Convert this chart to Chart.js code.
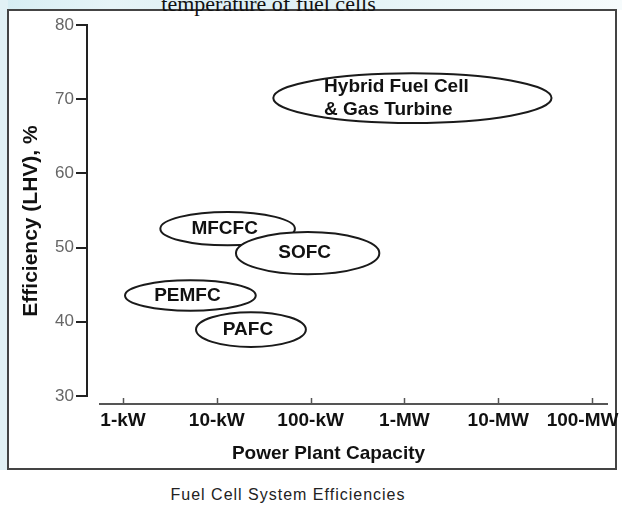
<!DOCTYPE html>
<html>
<head>
<meta charset="utf-8">
<script src="https://cdn.jsdelivr.net/npm/chart.js@4/dist/chart.umd.min.js"></script>
<style>
  html, body { margin: 0; padding: 0; }
  body { width: 622px; height: 507px; position: relative; overflow: hidden; background: #fff;
         font-family: "Liberation Sans", Arial, sans-serif; }
  #bgTop { position: absolute; left: 0; top: 0; width: 622px; height: 10px;
           background: linear-gradient(90deg, #d6edf3 0%, #e6f4f7 18%, #dcefF4 40%, #eaf6f8 70%, #f6fbfc 100%); }
  #bgLeft { position: absolute; left: 0; top: 0; width: 8px; height: 470px; background: #e2f1f5; }
  #frame { position: absolute; left: 7px; top: 9px; width: 610px; height: 461px;
           box-sizing: border-box; border: 2px solid #444; }
  #topText { position: absolute; left: 0; width: 537px; top: -7px; text-align: center;
             font: 22px/22px "Liberation Serif", "Times New Roman", serif; color: #111; }
  #caption { position: absolute; left: 0; width: 576px; top: 486px; text-align: center;
             font: 16px/18px "Liberation Sans", Arial, sans-serif; letter-spacing: 1px; color: #222; }
  #wrap { position: absolute; left: 0; top: 0; width: 622px; height: 507px; }
</style>
</head>
<body>
<div id="bgTop"></div>
<div id="bgLeft"></div>
<div id="frame"></div>
<div id="topText">temperature of fuel cells</div>
<div id="caption">Fuel Cell System Efficiencies</div>
<div id="wrap"><canvas id="fuelCellChart"></canvas></div>

<script>
// tick labels of the capacity axis (kW, log scale)
const capacityTicks = [1, 10, 100, 1000, 10000, 100000];
const capacityLabels = ['1-kW', '10-kW', '100-kW', '1-MW', '10-MW', '100-MW'];
const efficiencyTicks = [30, 40, 50, 60, 70, 80];

// fuel cell types: capacity range (kW) and efficiency range (%)
const fuelCells = [['Hybrid Fuel Cell', '& Gas Turbine'], ['MFCFC'], ['SOFC'], ['PEMFC'], ['PAFC']];
const capacityMin = [40, 2.5, 16, 1.05, 6];
const capacityMax = [37000, 68, 540, 26, 89];
const efficiencyMin = [66.8, 50.3, 46.4, 41.5, 36.6];
const efficiencyMax = [73.5, 54.8, 52.1, 45.6, 41.3];

Chart.defaults.font.family = '"Liberation Sans", Arial, sans-serif';

// x axis line sits a little below the y axis, with small ticks pointing up
const xAxisPlugin = {
    id: 'xAxisLine',
    afterDraw(chart) {
        const ctx = chart.ctx;
        const xs = chart.scales.x;
        const area = chart.chartArea;
        const yLine = area.bottom + 8;
        ctx.save();
        ctx.strokeStyle = '#555';
        ctx.lineWidth = 2;
        ctx.beginPath();
        ctx.moveTo(area.left + 12, yLine);
        ctx.lineTo(area.right, yLine);
        ctx.stroke();
        ctx.lineWidth = 1.5;
        capacityTicks.forEach(function (t) {
            const px = Math.round(xs.getPixelForValue(t)) + 0.5;
            ctx.beginPath();
            ctx.moveTo(px, yLine);
            ctx.lineTo(px, yLine - 6);
            ctx.stroke();
        });
        ctx.restore();
    }
};

// ellipses for each fuel cell type
const ellipsePlugin = {
    id: 'fuelCellEllipses',
    afterDatasetsDraw(chart) {
        const ctx = chart.ctx;
        const xs = chart.scales.x;
        const ys = chart.scales.y;
        ctx.save();
        fuelCells.forEach(function (lines, i) {
            const x0 = xs.getPixelForValue(capacityMin[i]);
            const x1 = xs.getPixelForValue(capacityMax[i]);
            const y0 = ys.getPixelForValue(efficiencyMax[i]);
            const y1 = ys.getPixelForValue(efficiencyMin[i]);
            const cx = (x0 + x1) / 2, cy = (y0 + y1) / 2;
            ctx.beginPath();
            ctx.ellipse(cx, cy, (x1 - x0) / 2, (y1 - y0) / 2, 0, 0, Math.PI * 2);
            ctx.fillStyle = '#fff';
            ctx.fill();
            ctx.lineWidth = 2;
            ctx.strokeStyle = '#1a1a1a';
            ctx.stroke();

            ctx.fillStyle = '#111';
            ctx.font = 'bold 19px "Liberation Sans", Arial, sans-serif';
            ctx.textBaseline = 'middle';
            if (lines.length > 1) {
                const w = Math.max.apply(null, lines.map(function (l) { return ctx.measureText(l).width; }));
                ctx.textAlign = 'left';
                const lh = 23;
                lines.forEach(function (l, k) {
                    ctx.fillText(l, cx - w / 2 - 16, cy - lh * (lines.length - 1) / 2 + k * lh);
                });
            } else {
                ctx.textAlign = 'center';
                ctx.fillText(lines[0], cx - 3, cy);
            }
        });
        ctx.restore();
    }
};

const ctxChart = document.getElementById('fuelCellChart');
new Chart(ctxChart, {
    type: 'scatter',
    data: {
        datasets: [{
            label: 'Fuel cells',
            data: fuelCells.map(function (n, i) {
                return { x: Math.sqrt(capacityMin[i] * capacityMax[i]), y: (efficiencyMin[i] + efficiencyMax[i]) / 2 };
            }),
            pointRadius: 0
        }]
    },
    options: {
        responsive: true,
        maintainAspectRatio: false,
        animation: false,
        layout: {
            autoPadding: false,
            padding: { top: 25, left: 0, right: 14, bottom: 41 }
        },
        scales: {
            x: {
                type: 'logarithmic',
                min: 0.413,
                max: 148000,
                afterBuildTicks: function (scale) {
                    scale.ticks = capacityTicks.map(function (v) { return { value: v }; });
                },
                afterFit: function (scale) {
                    scale.height = 70;
                    scale.paddingLeft = 0;
                    scale.paddingRight = 0;
                },
                grid: { display: false, drawTicks: false },
                border: { display: false },
                ticks: {
                    autoSkip: false,
                    maxRotation: 0,
                    padding: 13,
                    color: '#111',
                    font: { size: 19, weight: 'bold' },
                    callback: function (value, index) {
                        const lab = capacityLabels[index];
                        // last label is pulled left so it stays inside the frame
                        return index === capacityLabels.length - 1 ? lab + '\u2002\u2002' : lab;
                    }
                },
                title: {
                    display: true,
                    text: 'Power Plant Capacity\u2002\u2002\u2002\u2002',
                    color: '#111',
                    font: { size: 19, weight: 'bold' },
                    padding: { top: 0, bottom: 1 }
                }
            },
            y: {
                min: 30,
                max: 80,
                afterBuildTicks: function (scale) {
                    scale.ticks = efficiencyTicks.map(function (v) { return { value: v }; });
                },
                afterFit: function (scale) { scale.width = 87; },
                grid: { drawOnChartArea: false, drawTicks: true, tickLength: 11, color: '#222', lineWidth: 2 },
                border: { display: true, color: '#222', width: 2 },
                ticks: {
                    padding: 2,
                    color: '#666',
                    font: { size: 17 }
                },
                title: {
                    display: true,
                    text: 'Efficiency (LHV), %\u2002\u2002',
                    color: '#111',
                    font: { size: 21, weight: 'bold' },
                    padding: { top: 19, bottom: 0 }
                }
            }
        },
        plugins: {
            legend: { display: false },
            tooltip: { enabled: false }
        }
    },
    plugins: [ellipsePlugin, xAxisPlugin]
});
</script>
</body>
</html>
